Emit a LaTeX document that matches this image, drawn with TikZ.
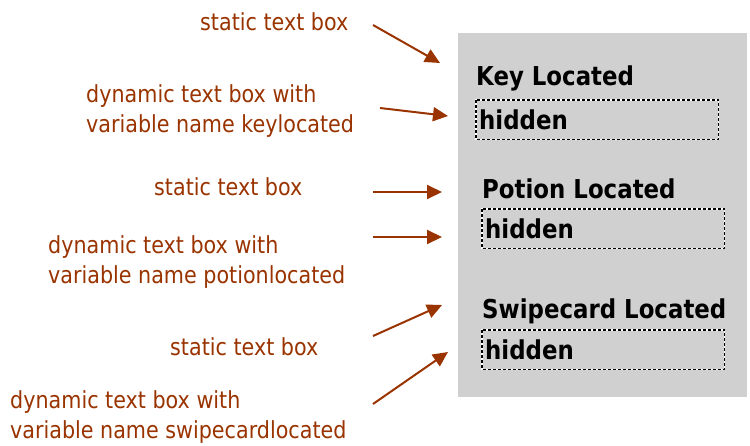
\documentclass[tikz,border=0pt]{standalone}
\usepackage{fontspec}
\setmainfont{DejaVu Sans}
\newfontfamily\narrowfont{DejaVu Sans}[FakeStretch=0.88]
\usetikzlibrary{arrows.meta}
\definecolor{ann}{HTML}{993300}
\definecolor{panelgray}{HTML}{D0D0D0}
\tikzset{
  annot/.style={anchor=base west, inner sep=0pt, text=ann, align=left,
    font=\narrowfont\fontsize{23.5}{30}\selectfont},
  ptr/.style={draw=ann, line width=2pt, -{Triangle[length=15pt,width=14pt]}},
  title/.style={anchor=base west, inner sep=0pt, font=\narrowfont\fontsize{26}{28}\selectfont\bfseries},
  varbox/.style={anchor=north west, minimum width=242pt, minimum height=39pt,
    text width=236pt, inner xsep=3pt, inner ysep=0pt, align=left,
    font=\narrowfont\fontsize{26}{28}\selectfont\bfseries},
  boxwhite/.style={draw=white, line width=1.6pt},
  boxdash/.style={draw=black, line width=1.6pt, dash pattern=on 3pt off 2pt},
}
\begin{document}
\begin{tikzpicture}[x=1pt,y=-1pt]
\useasboundingbox (0,0) rectangle (750,445);
% panel
\node (panel) [fill=panelgray, anchor=north west, minimum width=289pt, minimum height=364pt, inner sep=0pt] at (458,33) {};
\node (t1) [title] at (476,85) {Key Located};
\node (v1) [varbox] at (476,100) {hidden};
\node (t2) [title] at (482,198) {Potion Located};
\node (v2) [varbox] at (482,209) {hidden};
\node (t3) [title] at (482,318) {Swipecard Located};
\node (v3) [varbox] at (482,330) {hidden};
\foreach \b in {v1,v2,v3}{
  \draw[boxwhite] (\b.north west) rectangle (\b.south east);
  \draw[boxdash] (\b.north west) rectangle (\b.south east);
}
% annotations (base anchor = last line)
\node (a1) [annot] at (200,30) {static text box};
\node (a2) [annot] at (86,132) {dynamic text box with\\variable name keylocated};
\node (a3) [annot] at (154,195) {static text box};
\node (a4) [annot] at (48,283) {dynamic text box with\\variable name potionlocated};
\node (a5) [annot] at (170,355) {static text box};
\node (a6) [annot] at (10,438) {dynamic text box with\\variable name swipecardlocated};
% arrow coordinates
\coordinate (s1) at (373,25);  \coordinate (e1) at (440,63);
\coordinate (s2) at (380,108); \coordinate (e2) at (448,116);
\coordinate (s3) at (373,192); \coordinate (e3) at (442,192);
\coordinate (s4) at (373,237); \coordinate (e4) at (442,237);
\coordinate (s5) at (373,336); \coordinate (e5) at (442,305);
\coordinate (s6) at (373,404); \coordinate (e6) at (448,352);
\draw[ptr] (s1) -- (e1);
\draw[ptr] (s2) -- (e2);
\draw[ptr] (s3) -- (e3);
\draw[ptr] (s4) -- (e4);
\draw[ptr] (s5) -- (e5);
\draw[ptr] (s6) -- (e6);
\end{tikzpicture}
\end{document}
